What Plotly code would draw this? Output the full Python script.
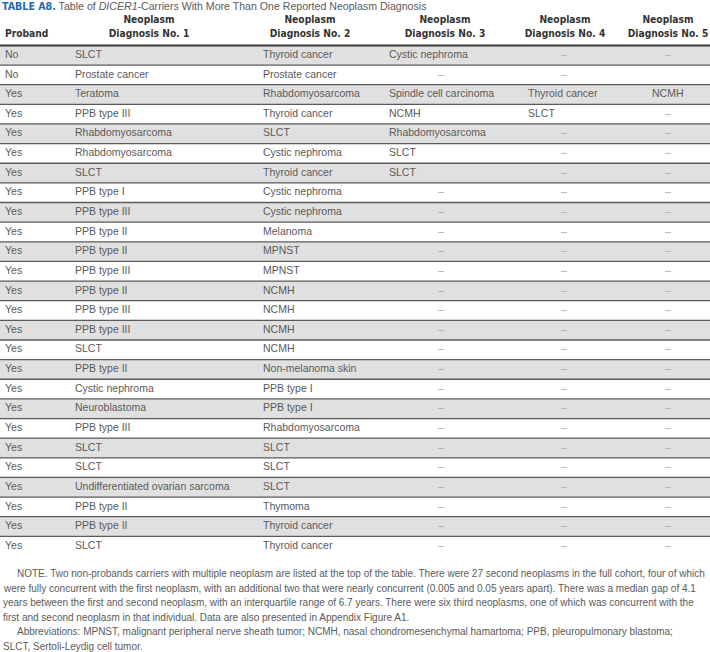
import plotly.graph_objects as go

# ---------------- data ----------------
proband = ["No", "No", "Yes", "Yes", "Yes", "Yes", "Yes", "Yes", "Yes", "Yes", "Yes", "Yes", "Yes",
           "Yes", "Yes", "Yes", "Yes", "Yes", "Yes", "Yes", "Yes", "Yes", "Yes", "Yes", "Yes", "Yes"]
diag1 = ["SLCT", "Prostate cancer", "Teratoma", "PPB type III", "Rhabdomyosarcoma", "Rhabdomyosarcoma",
         "SLCT", "PPB type I", "PPB type III", "PPB type II", "PPB type II", "PPB type III", "PPB type II",
         "PPB type III", "PPB type III", "SLCT", "PPB type II", "Cystic nephroma", "Neuroblastoma",
         "PPB type III", "SLCT", "SLCT", "Undifferentiated ovarian sarcoma", "PPB type II", "PPB type II",
         "SLCT"]
diag2 = ["Thyroid cancer", "Prostate cancer", "Rhabdomyosarcoma", "Thyroid cancer", "SLCT", "Cystic nephroma",
         "Thyroid cancer", "Cystic nephroma", "Cystic nephroma", "Melanoma", "MPNST", "MPNST", "NCMH",
         "NCMH", "NCMH", "NCMH", "Non-melanoma skin", "PPB type I", "PPB type I", "Rhabdomyosarcoma",
         "SLCT", "SLCT", "SLCT", "Thymoma", "Thyroid cancer", "Thyroid cancer"]
D = "–"
diag3 = ["Cystic nephroma", D, "Spindle cell carcinoma", "NCMH", "Rhabdomyosarcoma", "SLCT", "SLCT"] + [D] * 19
diag4 = [D, D, "Thyroid cancer", "SLCT"] + [D] * 22
diag5 = [D, "", "NCMH"] + [D] * 23

headers = ["Proband", "Neoplasm|Diagnosis No. 1", "Neoplasm|Diagnosis No. 2", "Neoplasm|Diagnosis No. 3",
           "Neoplasm|Diagnosis No. 4", "Neoplasm|Diagnosis No. 5"]

note_lines = [
    "NOTE. Two non-probands carriers with multiple neoplasm are listed at the top of the table. There were 27 second neoplasms in the full cohort, four of which",
    "were fully concurrent with the first neoplasm, with an additional two that were nearly concurrent (0.005 and 0.05 years apart). There was a median gap of 4.1",
    "years between the first and second neoplasm, with an interquartile range of 6.7 years. There were six third neoplasms, one of which was concurrent with the",
    "first and second neoplasm in that individual. Data are also presented in Appendix Figure A1.",
    "Abbreviations: MPNST, malignant peripheral nerve sheath tumor; NCMH, nasal chondromesenchymal hamartoma; PPB, pleuropulmonary blastoma;",
    "SLCT, Sertoli-Leydig cell tumor.",
]

# ---------------- styles / layout constants ----------------
W, H = 710, 652
MT, MB = 14, 96
Y_TOP = -2.1
FONT = "Liberation Sans, Arial, sans-serif"
HFONT = "DejaVu Sans Condensed, DejaVu Sans, sans-serif"
TXT = "#5a5a5a"
DASHC = "#ababab"
HEAD = dict(family=HFONT, size=10.2, color="#333333", weight="bold")
GRAY = "#e1e0e0"
BODY_SIZE = 10.5

columns = [proband, diag1, diag2, diag3, diag4, diag5]
col_left = [5, 75, 263, 389, 528, 652]
col_center = [None, 149, 310, 441, 564, 668]
head_center = [None, 149, 310, 445, 565, 668]

n = len(proband)
rows = list(range(n))

fig = go.Figure()

# row fills
fig.add_trace(go.Bar(
    orientation="h", y=rows, x=[W + 40] * n, base=-20, width=1,
    marker=dict(color=[GRAY if i % 2 == 0 else "#ffffff" for i in rows], line=dict(width=0)),
    hoverinfo="skip", showlegend=False,
))

# cell text
for ci, col in enumerate(columns):
    xs, pos, colors = [], [], []
    for v in col:
        if v == D and col_center[ci] is not None:
            xs.append(col_center[ci]); pos.append("middle center"); colors.append(DASHC)
        else:
            xs.append(col_left[ci]); pos.append("middle right"); colors.append(TXT)
    fig.add_trace(go.Scatter(
        x=xs, y=rows, text=col, mode="text", textposition=pos,
        textfont=dict(family=FONT, size=BODY_SIZE, color=colors),
        hoverinfo="skip", showlegend=False, cliponaxis=False,
    ))

# header text
for ci, h in enumerate(headers):
    parts = h.split("|")
    if len(parts) == 1:
        fig.add_trace(go.Scatter(x=[col_left[ci]], y=[-1.08], text=[parts[0]], mode="text",
                                 textposition="middle right", textfont=HEAD,
                                 hoverinfo="skip", showlegend=False, cliponaxis=False))
    else:
        fig.add_trace(go.Scatter(x=[head_center[ci]] * 2, y=[-1.76, -1.08], text=parts, mode="text",
                                 textposition="middle center", textfont=HEAD,
                                 hoverinfo="skip", showlegend=False, cliponaxis=False))

# separators
shapes = [dict(type="line", xref="paper", x0=0, x1=1, yref="y", y0=-0.5, y1=-0.5,
               line=dict(color="#3a3a3a", width=2))]
for i in range(n - 1):
    shapes.append(dict(type="line", xref="paper", x0=0, x1=1, yref="y", y0=i + 0.5, y1=i + 0.5,
                       line=dict(color="#5a5a5a", width=1.3)))


def py(px):
    return (H - MB - px) / (H - MT - MB)


annotations = [dict(
    xref="paper", yref="paper", x=0, y=py(6.5), xanchor="left", yanchor="middle", showarrow=False,
    text="<b><span style='color:#2368b5;font-family:DejaVu Sans Condensed'>TABLE A8.</span></b> Table of <i>DICER1</i>-Carriers With More Than One Reported Neoplasm Diagnosis",
    font=dict(family=FONT, size=10.6, color=TXT),
)]
note_y = [573, 588, 602, 617, 632, 646]
note_x = [15, 1, 1, 1, 15, 1]
for t, yy, xx in zip(note_lines, note_y, note_x):
    annotations.append(dict(xref="paper", yref="paper", x=xx / W, y=py(yy), xanchor="left", yanchor="middle",
                            showarrow=False, text=t, font=dict(family=FONT, size=10, color=TXT)))

fig.update_layout(
    width=W, height=H, margin=dict(l=0, r=0, t=MT, b=MB, pad=0),
    paper_bgcolor="white", plot_bgcolor="white",
    xaxis=dict(range=[0, W], visible=False, fixedrange=True),
    yaxis=dict(range=[n - 0.5, Y_TOP], visible=False, fixedrange=True),
    shapes=shapes, annotations=annotations, hovermode=False, bargap=0, showlegend=False,
)

fig.write_html("out.html", config={"displayModeBar": False},
               post_script="document.body.style.margin='0';document.body.style.overflow='hidden';")
